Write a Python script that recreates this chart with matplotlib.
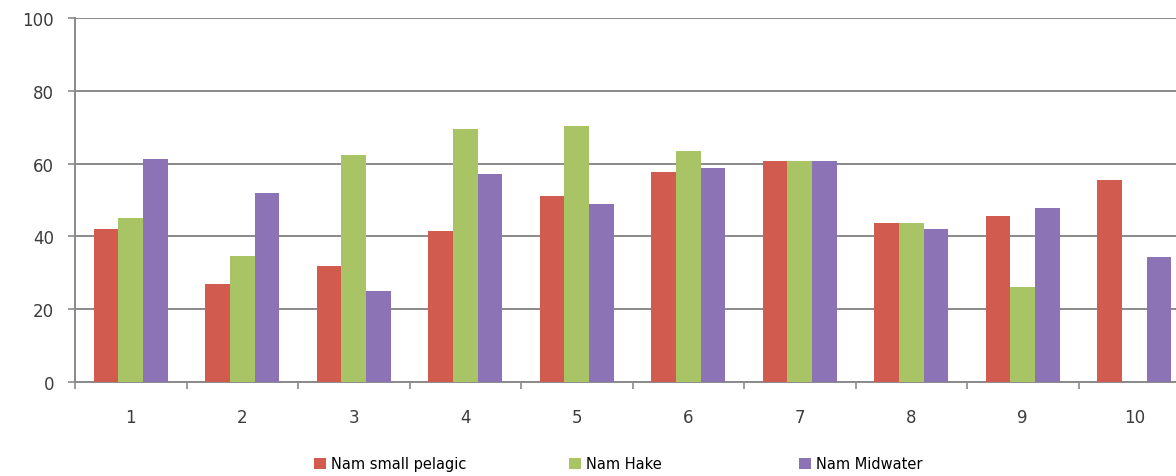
import matplotlib.pyplot as plt
import numpy as np

# categories along the x axis
categories = ['1', '2', '3', '4', '5', '6', '7', '8', '9', '10']

# values for each stock
small_pelagic = [42, 27, 32, 41.6, 51, 57.6, 60.8, 43.6, 45.5, 55.5]
hake = [45, 34.7, 62.5, 69.5, 70.4, 63.5, 60.8, 43.6, 26, 0]
midwater = [61.2, 52, 25, 57.1, 48.9, 58.7, 60.8, 42, 47.8, 34.3]

series = ['Nam small pelagic', 'Nam Hake', 'Nam Midwater']
colors = ['#D25B50', '#A9C464', '#8C73B6']
# left edge of each legend entry (figure pixels)
legend_x = [314, 569, 799]

grey = '#8A8A8A'
text_col = '#3C3C3C'

fig = plt.figure(figsize=(11.76, 4.77), dpi=100)
# the plot area runs a little past the right edge of the figure
ax = fig.add_axes([75 / 1176, 94 / 477, 1115 / 1176, 364 / 477])

x = np.arange(len(categories))
w = 0.22
bars = []
for k, (vals, name, col) in enumerate(zip([small_pelagic, hake, midwater], series, colors)):
    bars.append(ax.bar(x + (k - 1) * w, vals, width=w, color=col, label=name, zorder=3))

ax.set_xlim(-0.5, len(categories) - 0.5)
ax.set_ylim(0, 100)
ax.set_yticks(range(0, 101, 20))
ax.yaxis.grid(True, color=grey, linewidth=1.4, zorder=1)

ax.set_xticks(x)
ax.set_xticklabels(categories)
ax.set_xticks(np.arange(-0.5, len(categories)), minor=True)
ax.tick_params(axis='x', which='major', length=0, pad=19, labelsize=12, labelcolor=text_col)
ax.tick_params(axis='x', which='minor', length=5, width=1.2, color=grey, direction='out')
ax.tick_params(axis='y', length=5, width=1.2, color=grey, pad=10, labelsize=12, labelcolor=text_col)

for s in ['top', 'right']:
    ax.spines[s].set_visible(False)
for s in ['left', 'bottom']:
    ax.spines[s].set_color(grey)
    ax.spines[s].set_linewidth(1.4)

# one legend per series so each entry sits at its own spot
for b, name, lx in zip(bars, series, legend_x):
    fig.legend([b], [name], loc='center left', bbox_to_anchor=(lx / 1176, 1 - 465 / 477),
               frameon=False, fontsize=10.5, handlelength=0.8, handleheight=0.8,
               handletextpad=0.35, borderpad=0, borderaxespad=0)

fig.savefig('out.png', dpi=100)
